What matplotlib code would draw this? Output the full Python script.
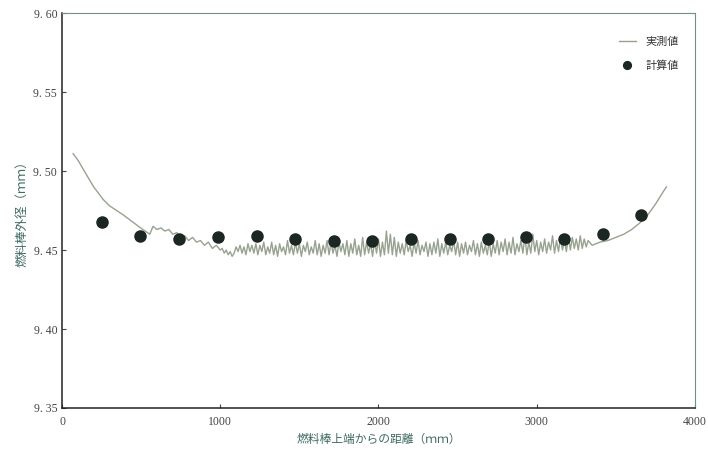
import matplotlib.pyplot as plt
from matplotlib.ticker import FuncFormatter

plt.rcParams['font.family'] = ['Liberation Serif', 'Noto Sans CJK JP', 'DejaVu Sans']

# 計算値 (calculated)
calc_x = [250, 495, 740, 985, 1230, 1475, 1720, 1960, 2205, 2450, 2690, 2935, 3175, 3420, 3660]
calc_y = [9.468, 9.459, 9.457, 9.458, 9.459, 9.457, 9.456, 9.456, 9.457, 9.457, 9.457, 9.458, 9.457, 9.460, 9.472]

# 実測値 (measured)
meas_x = [70, 100, 135, 170, 200, 230, 260, 300, 345, 390, 430, 470, 510, 540, 555,
          575, 600, 625, 650, 675, 700, 725, 750, 775, 800, 825, 850, 875, 900, 925,
          950, 975, 1000,
          1012.5, 1025, 1037.5, 1050, 1062.5, 1075, 1087.5, 1100,
          1112.5, 1125, 1137.5, 1150, 1162.5, 1175, 1187.5, 1200,
          1212.5, 1225, 1237.5, 1250, 1262.5, 1275, 1287.5, 1300,
          1312.5, 1325, 1337.5, 1350, 1362.5, 1375, 1387.5, 1400,
          1412.5, 1425, 1437.5, 1450, 1462.5, 1475, 1487.5, 1500,
          1512.5, 1525, 1537.5, 1550, 1562.5, 1575, 1587.5, 1600,
          1612.5, 1625, 1637.5, 1650, 1662.5, 1675, 1687.5, 1700,
          1712.5, 1725, 1737.5, 1750, 1762.5, 1775, 1787.5, 1800,
          1812.5, 1825, 1837.5, 1850, 1862.5, 1875, 1887.5, 1900,
          1912.5, 1925, 1937.5, 1950, 1962.5, 1975, 1987.5, 2000,
          2012.5, 2025, 2037.5, 2050, 2062.5, 2075, 2087.5, 2100,
          2112.5, 2125, 2137.5, 2150, 2162.5, 2175, 2187.5, 2200,
          2212.5, 2225, 2237.5, 2250, 2262.5, 2275, 2287.5, 2300,
          2312.5, 2325, 2337.5, 2350, 2362.5, 2375, 2387.5, 2400,
          2412.5, 2425, 2437.5, 2450, 2462.5, 2475, 2487.5, 2500,
          2512.5, 2525, 2537.5, 2550, 2562.5, 2575, 2587.5, 2600,
          2612.5, 2625, 2637.5, 2650, 2662.5, 2675, 2687.5, 2700,
          2712.5, 2725, 2737.5, 2750, 2762.5, 2775, 2787.5, 2800,
          2812.5, 2825, 2837.5, 2850, 2862.5, 2875, 2887.5, 2900,
          2912.5, 2925, 2937.5, 2950, 2962.5, 2975, 2987.5, 3000,
          3012.5, 3025, 3037.5, 3050, 3062.5, 3075, 3087.5, 3100,
          3112.5, 3125, 3137.5, 3150, 3162.5, 3175, 3187.5, 3200,
          3212.5, 3225, 3237.5, 3250, 3262.5, 3275, 3287.5, 3300,
          3312.5, 3325,
          3350, 3400, 3450, 3500, 3550, 3600, 3650, 3700, 3750, 3800, 3820]
meas_y = [9.511, 9.507, 9.501, 9.495, 9.490, 9.486, 9.482, 9.478, 9.475, 9.472, 9.469, 9.466,
          9.463, 9.461, 9.460,
          9.465, 9.463, 9.464, 9.462, 9.463, 9.460, 9.461, 9.458, 9.459, 9.456, 9.458, 9.455,
          9.456, 9.453, 9.455, 9.451, 9.453, 9.450,
          9.451, 9.448, 9.450, 9.447, 9.449, 9.446, 9.448, 9.452,
          9.449, 9.453, 9.448, 9.452, 9.447, 9.454, 9.449, 9.453,
          9.448, 9.454, 9.447, 9.453, 9.449, 9.455, 9.447, 9.452,
          9.448, 9.455, 9.447, 9.453, 9.446, 9.454, 9.449, 9.452,
          9.447, 9.456, 9.448, 9.453, 9.447, 9.455, 9.448, 9.454,
          9.446, 9.453, 9.449, 9.455, 9.447, 9.452, 9.448, 9.456,
          9.447, 9.454, 9.446, 9.453, 9.448, 9.456, 9.447, 9.455,
          9.448, 9.453, 9.446, 9.455, 9.449, 9.454, 9.447, 9.456,
          9.446, 9.454, 9.448, 9.457, 9.447, 9.453, 9.446, 9.458,
          9.447, 9.455, 9.448, 9.454, 9.446, 9.456, 9.448, 9.457,
          9.446, 9.455, 9.447, 9.462, 9.448, 9.460, 9.447, 9.458,
          9.446, 9.455, 9.448, 9.454, 9.447, 9.456, 9.449, 9.453,
          9.446, 9.455, 9.448, 9.456, 9.447, 9.453, 9.449, 9.455,
          9.446, 9.454, 9.447, 9.455, 9.448, 9.457, 9.446, 9.454,
          9.448, 9.455, 9.447, 9.453, 9.449, 9.456, 9.447, 9.455,
          9.446, 9.454, 9.448, 9.455, 9.447, 9.453, 9.449, 9.456,
          9.447, 9.454, 9.446, 9.455, 9.448, 9.453, 9.447, 9.456,
          9.446, 9.454, 9.448, 9.456, 9.447, 9.455, 9.449, 9.457,
          9.447, 9.455, 9.448, 9.458, 9.447, 9.454, 9.449, 9.456,
          9.448, 9.459, 9.447, 9.455, 9.448, 9.460, 9.449, 9.456,
          9.447, 9.455, 9.449, 9.457, 9.448, 9.455, 9.450, 9.459,
          9.448, 9.456, 9.449, 9.458, 9.450, 9.456, 9.449, 9.459,
          9.450, 9.458, 9.451, 9.457, 9.450, 9.459, 9.451, 9.457,
          9.452, 9.456,
          9.453, 9.455, 9.456, 9.458, 9.460, 9.463, 9.467, 9.472, 9.479, 9.487, 9.490]

x_ticks = [0, 1000, 2000, 3000, 4000]
y_ticks = [9.35, 9.40, 9.45, 9.50, 9.55, 9.60]

fig = plt.figure(figsize=(7.08, 4.55), dpi=100)
ax = fig.add_axes([0.0876, 0.1033, 0.894, 0.868])

ax.plot(meas_x, meas_y, color='#98a290', lw=1.0, label='実測値')
ax.plot(calc_x, calc_y, 'o', color='#1c2622', ms=8, label='計算値')

ax.set_xlim(0, 4000)
ax.set_ylim(9.35, 9.60)
ax.set_xticks(x_ticks)
ax.set_yticks(y_ticks)
ax.yaxis.set_major_formatter(FuncFormatter(lambda v, p: ('%.2f' % v).replace('.', '. ')))
ax.tick_params(direction='in', length=3, labelsize=8.5, colors='#444444')
ax.tick_params(axis='x', pad=6)

for s in ['left', 'bottom']:
    ax.spines[s].set_color('#222222')
    ax.spines[s].set_linewidth(1.1)
for s in ['top', 'right']:
    ax.spines[s].set_color('#6f8f88')
    ax.spines[s].set_linewidth(0.8)

jp = ['Noto Sans CJK JP', 'DejaVu Sans']
ax.set_xlabel('燃料棒上端からの距離（ｍｍ）', family=jp, fontsize=8.5, color='#3f6a62', labelpad=3)
ax.set_ylabel('燃料棒外径（ｍｍ）', family=jp, fontsize=9, color='#3f6a62', labelpad=4)

lgd = ax.legend(loc='upper right', bbox_to_anchor=(0.99, 0.965), frameon=False,
                prop={'family': jp, 'size': 8}, handlelength=1.6, labelspacing=1.2,
                markerscale=0.7)
for t in lgd.get_texts():
    t.set_color('#333333')

fig.savefig('out.png', dpi=100)
